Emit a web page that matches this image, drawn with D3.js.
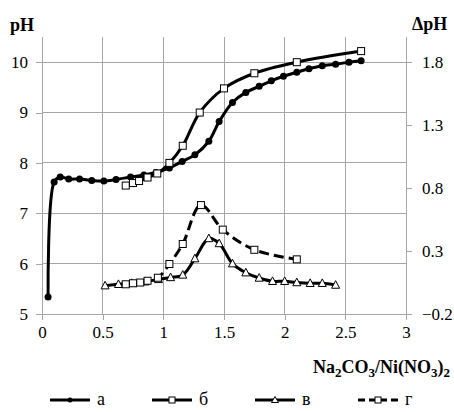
<!DOCTYPE html>
<html><head><meta charset="utf-8">
<script src="https://cdn.jsdelivr.net/npm/d3@7"></script>
<style>body{margin:0;background:#fff}svg{display:block}text{font-family:"Liberation Serif","Times New Roman",serif}</style>
</head><body>
<svg id="c" width="454" height="412"></svg>
<script>
// ---- data ----
const xTicks = [0, 0.5, 1, 1.5, 2, 2.5, 3];
const leftTicks = [5, 6, 7, 8, 9, 10];
const rightTicks = [-0.2, 0.3, 0.8, 1.3, 1.8];
const legendLabels = ["а", "б", "в", "г"];

const aX = [0.05,0.1,0.15,0.22,0.31,0.41,0.51,0.61,0.73,0.84,0.94,1.05,1.155,1.26,1.375,1.46,1.57,1.68,1.79,1.89,1.99,2.1,2.2,2.31,2.42,2.53,2.63];
const aY = [5.34,7.62,7.72,7.68,7.68,7.65,7.64,7.67,7.72,7.76,7.81,7.9,8.03,8.16,8.43,8.82,9.2,9.4,9.52,9.63,9.72,9.8,9.87,9.93,9.96,10.0,10.03];

const bX = [0.69,0.75,0.8,0.87,0.95,1.05,1.16,1.3,1.5,1.75,2.1,2.63];
const bY = [7.55,7.6,7.64,7.71,7.79,8.0,8.34,9.0,9.48,9.78,10.0,10.22];

const vX = [0.52,0.63,0.74,0.85,0.96,1.06,1.16,1.26,1.375,1.46,1.57,1.68,1.79,1.9,2.0,2.1,2.21,2.31,2.42];
const vY = [0.025,0.036,0.044,0.056,0.075,0.09,0.11,0.24,0.40,0.36,0.2,0.128,0.086,0.06,0.06,0.05,0.044,0.044,0.03];

const gX = [0.69,0.75,0.81,0.87,0.955,1.05,1.16,1.31,1.49,1.75,2.1];
const gY = [0.036,0.044,0.05,0.064,0.088,0.197,0.356,0.665,0.47,0.31,0.234];

// ---- layout ----
const svg = d3.select("#c");
const L = 42, R = 406, T = 37, B = 314;
const x = d3.scaleLinear().domain([0, 3]).range([L, R]);
const yL = d3.scaleLinear().domain([5, 10.5]).range([B, T]);
const yR = d3.scaleLinear().domain([-0.2, 2.0]).range([B, T]);
const grid = "#a6a6a6";
const font = '"Liberation Serif","Times New Roman",serif';

// gridlines
svg.append("g").selectAll("line").data(xTicks.slice(1)).join("line")
  .attr("x1", d => x(d)).attr("x2", d => x(d)).attr("y1", T).attr("y2", B)
  .attr("stroke", grid).attr("stroke-width", 1).attr("shape-rendering","crispEdges");
svg.append("g").selectAll("line").data(leftTicks).join("line")
  .attr("x1", L).attr("x2", R).attr("y1", d => yL(d)).attr("y2", d => yL(d))
  .attr("stroke", grid).attr("stroke-width", 1).attr("shape-rendering","crispEdges");

// axes
const axL = svg.append("g").attr("transform", `translate(${L},0)`)
  .call(d3.axisLeft(yL).tickValues(leftTicks).tickSize(6).tickPadding(8).tickFormat(d3.format("d")));
const axR = svg.append("g").attr("transform", `translate(${R},0)`)
  .call(d3.axisRight(yR).tickValues(rightTicks).tickSize(6).tickPadding(10).tickFormat(d3.format(".1f")));
const axB = svg.append("g").attr("transform", `translate(0,${B})`)
  .call(d3.axisBottom(x).tickValues(xTicks).tickSize(6).tickPadding(6).tickFormat(d => d3.format("")(d)));
[axL, axR, axB].forEach(g => {
  g.attr("font-family", null).attr("font-size", null);
  g.select(".domain").attr("stroke", grid).attr("shape-rendering","crispEdges");
  g.selectAll(".tick line").attr("stroke", grid).attr("shape-rendering","crispEdges");
  g.selectAll("text").style("font-family", font).style("font-size", "17px").attr("fill", "#000");
});
axL.select(".domain").attr("d", `M0,${T}V${B}`);
axR.select(".domain").attr("d", `M0,${T}V${B}`);
axB.select(".domain").attr("d", `M${L},0H${R}`);

// axis titles
svg.append("text").attr("x", 10).attr("y", 31).style("font-family", font).attr("font-weight", "bold")
  .attr("font-size", 18).text("pH");
svg.append("text").attr("x", 412).attr("y", 30).style("font-family", font).attr("font-weight", "bold")
  .attr("font-size", 18).text("ΔpH");
const xt = svg.append("text").attr("x", 450).attr("y", 373).attr("text-anchor", "end")
  .style("font-family", font).attr("font-weight", "bold").attr("font-size", 18);
[["Na",0],["2",1],["CO",0],["3",1],["/Ni(NO",0],["3",1],[")",0],["2",1]].forEach(([t, s]) => {
  const ts = xt.append("tspan").text(t).attr("font-size", s ? 13 : 18);
  if (s) ts.attr("baseline-shift", "-4");
});

// series
const curve = d3.curveCatmullRom.alpha(0.5);
function series(xs, ys, ys_scale, dashed) {
  const pts = xs.map((v, i) => [x(v), ys_scale(ys[i])]);
  svg.append("path").attr("d", d3.line().curve(curve)(pts)).attr("fill", "none")
    .attr("stroke", "#000").attr("stroke-width", 3)
    .attr("stroke-dasharray", dashed ? "10,5" : null);
  return pts;
}
function circles(pts, r) {
  svg.append("g").selectAll("circle").data(pts).join("circle")
    .attr("cx", d => d[0]).attr("cy", d => d[1]).attr("r", r).attr("fill", "#000");
}
function squares(pts, s) {
  svg.append("g").selectAll("rect").data(pts).join("rect")
    .attr("x", d => d[0] - s/2).attr("y", d => d[1] - s/2).attr("width", s).attr("height", s)
    .attr("fill", "#fff").attr("stroke", "#000").attr("stroke-width", 1);
}
function triangles(pts, s) {
  svg.append("g").selectAll("path").data(pts).join("path")
    .attr("d", d => `M${d[0]},${d[1]-s*0.55}L${d[0]+s/2},${d[1]+s*0.4}L${d[0]-s/2},${d[1]+s*0.4}Z`)
    .attr("fill", "#fff").attr("stroke", "#000").attr("stroke-width", 1);
}

circles(series(aX, aY, yL, false), 3.5);
squares(series(bX, bY, yL, false), 7);
triangles(series(vX, vY, yR, false), 8);
squares(series(gX, gY, yR, true), 7);

// legend
const legX = [50, 152, 255, 358];
const lg = svg.append("g");
legendLabels.forEach((lab, i) => {
  const x0 = legX[i], y0 = 400, cx = x0 + 20;
  lg.append("line").attr("x1", x0).attr("x2", x0 + 40).attr("y1", y0).attr("y2", y0)
    .attr("stroke", "#000").attr("stroke-width", 3).attr("stroke-dasharray", i === 3 ? "7,4" : null);
  if (i === 0) lg.append("circle").attr("cx", cx).attr("cy", y0).attr("r", 2.5).attr("fill", "#000");
  if (i === 1 || i === 3) lg.append("rect").attr("x", cx - 3).attr("y", y0 - 3).attr("width", 6).attr("height", 6)
    .attr("fill", "#fff").attr("stroke", "#000");
  if (i === 2) lg.append("path").attr("d", `M${cx},${y0-3.5}L${cx+3.5},${y0+2.5}L${cx-3.5},${y0+2.5}Z`)
    .attr("fill", "#fff").attr("stroke", "#000");
  lg.append("text").attr("x", x0 + 47).attr("y", y0 + 5).style("font-family", font).attr("font-size", 18)
    .text(lab);
});
</script>
</body></html>
